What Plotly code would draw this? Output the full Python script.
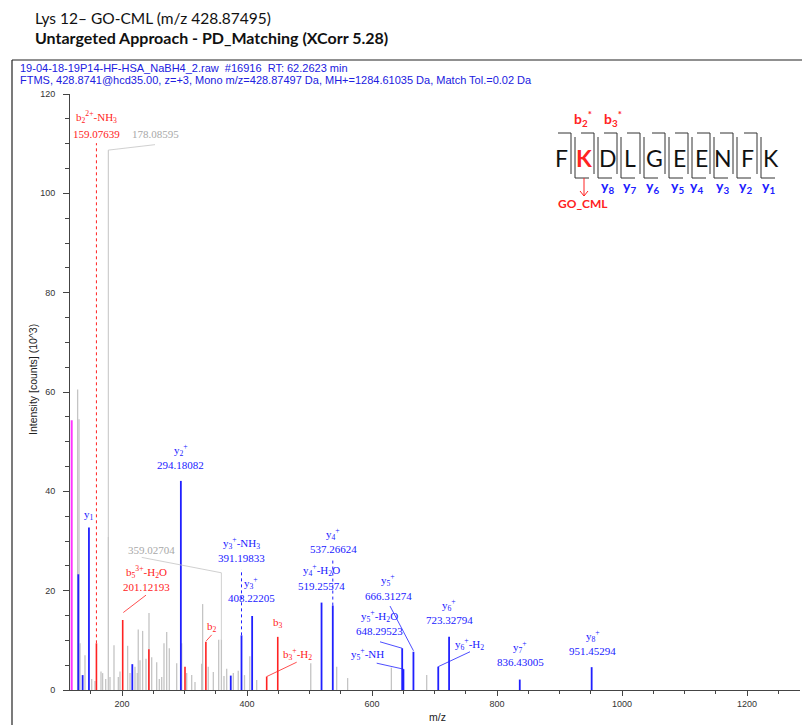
import plotly.graph_objects as go

# ---------------- data ----------------
blue_mz = [130.1, 137.0, 147.11, 216.5, 294.18, 374.0, 391.20, 408.22, 519.26, 537.27,
           648.30, 650.3, 666.31, 706.0, 723.33, 836.43, 951.45]
blue_int = [23.3, 3.0, 32.7, 5.2, 42.1, 2.9, 11.0, 14.9, 17.6, 17.0,
            8.4, 4.2, 7.7, 4.7, 10.7, 2.1, 4.6]

red_mz = [159.08, 201.12, 243.0, 300.8, 334.2, 431.5, 449.2]
red_int = [9.4, 14.1, 8.2, 4.7, 9.7, 2.7, 10.7]

magenta_mz = [119.5]
magenta_int = [54.3]

gray_mz = [129.0, 131.2, 132.8, 140.8, 151.5, 156.8, 166.4, 169.0, 173.9, 178.09, 180.8,
           187.2, 194.1, 196.8, 209.0, 212.8, 220.8, 224.5, 226.0, 228.8, 233.0, 238.4,
           243.2, 247.5, 255.5, 259.7, 263.5, 267.2, 271.5, 275.7, 287.5, 295.5, 303.5,
           311.5, 316.8, 327.5, 329.0, 338.0, 346.1, 354.7, 359.03, 363.2, 367.5, 378.1,
           386.0, 396.0, 404.5, 415.5, 502.0, 543.5, 561.0, 631.0, 687.5]
gray_int = [60.5, 54.5, 9.4, 7.0, 2.2, 1.8, 3.7, 3.4, 2.2, 30.8, 2.6,
            9.0, 2.6, 3.7, 8.9, 3.4, 4.7, 3.4, 12.2, 6.0, 11.9, 6.3,
            15.5, 6.6, 5.6, 2.2, 2.6, 9.4, 11.7, 8.4, 5.4, 9.4, 3.4,
            3.0, 1.6, 5.3, 17.3, 4.7, 3.6, 10.1, 10.2, 2.8, 4.3, 3.4,
            3.9, 3.0, 6.8, 2.0, 5.4, 4.7, 2.4, 4.5, 3.0]

x_ticks = [200, 400, 600, 800, 1000, 1200]
y_ticks = [0, 20, 40, 60, 80, 100, 120]

# ---------------- geometry helpers ----------------
W, H = 802, 725
ML, MR, MT, MB = 70, 2, 94, 35
PW, PH = W - ML - MR, H - MT - MB


def px(x):
    return (x - ML) / PW


def py(y):
    return (H - MB - y) / PH


BLUE = "#2020FF"
RED = "#FF2222"
GRAY_LINE = "#C4C4C4"
GRAY_TXT = "#A8A8A8"
MAG = "#FF33FF"


def stems(mz, inten):
    xs, ys = [], []
    for m, v in zip(mz, inten):
        xs += [m, m, None]
        ys += [0, v, None]
    return xs, ys


fig = go.Figure()
for mz, it, col, w in [(gray_mz, gray_int, GRAY_LINE, 1.3),
                       (red_mz, red_int, RED, 1.6),
                       (blue_mz, blue_int, BLUE, 1.8),
                       (magenta_mz, magenta_int, MAG, 2.0)]:
    xs, ys = stems(mz, it)
    fig.add_trace(go.Scatter(x=xs, y=ys, mode="lines", line=dict(color=col, width=w),
                             hoverinfo="skip", showlegend=False))

# dotted extensions from peak top up to label
ext = [(159.08, 9.4, 110.1, RED, "dot"), (178.09, 30.8, 108.7, GRAY_LINE, "solid"),
       (391.20, 11.0, 24.3, BLUE, "dot"), (537.27, 17.0, 26.2, BLUE, "dot")]
for m, a, b, c, d in ext:
    fig.add_trace(go.Scatter(x=[m, m], y=[a, b], mode="lines",
                             line=dict(color=c, width=1, dash=d), hoverinfo="skip", showlegend=False))

# leader lines (label -> peak)
leaders = [
    ([178.09, 252.8], [108.7, 109.8], GRAY_LINE),
    ([231.5, 359.03, 359.03], [26.7, 23.6, 10.2], GRAY_LINE),
    ([238.4, 202.1], [19.1, 15.6], RED),
    ([343.5, 334.9], [11.1, 9.9], RED),
    ([479.5, 431.5], [5.6, 2.7], RED),
    ([628.8, 666.31], [16.9, 7.9], BLUE),
    ([612.8, 648.3], [9.7, 8.4], BLUE),
    ([607.5, 650.3], [5.4, 4.2], BLUE),
    ([756.8, 706.0], [7.7, 4.7], BLUE),
]
for xs, ys, c in leaders:
    fig.add_trace(go.Scatter(x=xs, y=ys, mode="lines", line=dict(color=c, width=0.8),
                             hoverinfo="skip", showlegend=False))

# peak labels (data coords)
labels = [
    ("b<sub>2</sub><sup>2+</sup>-NH<sub>3</sub>", 158.5, 115.3, RED),
    ("159.07639", 158.5, 111.9, RED),
    ("178.08595", 252.8, 111.9, GRAY_TXT),
    ("y<sub>2</sub><sup>+</sup>", 294.18, 48.3, BLUE),
    ("294.18082", 294.18, 45.3, BLUE),
    ("y<sub>1</sub>", 147.2, 35.2, BLUE),
    ("359.02704", 247.5, 28.2, GRAY_TXT),
    ("b<sub>5</sub><sup>3+</sup>-H<sub>2</sub>O", 238.4, 23.8, RED),
    ("201.12193", 238.4, 20.8, RED),
    ("b<sub>2</sub>", 343.5, 12.7, RED),
    ("y<sub>3</sub><sup>+</sup>-NH<sub>3</sub>", 391.5, 29.6, BLUE),
    ("391.19833", 391.5, 26.5, BLUE),
    ("y<sub>3</sub><sup>+</sup>", 406.4, 21.5, BLUE),
    ("408.22205", 406.9, 18.5, BLUE),
    ("b<sub>3</sub>", 449.1, 13.5, RED),
    ("b<sub>3</sub><sup>+</sup>-H<sub>2</sub>", 480.5, 7.2, RED),
    ("y<sub>4</sub><sup>+</sup>", 538.1, 31.4, BLUE),
    ("537.26624", 538.1, 28.3, BLUE),
    ("y<sub>4</sub><sup>+</sup>-H<sub>2</sub>O", 519.5, 24.1, BLUE),
    ("519.25574", 519.5, 20.9, BLUE),
    ("y<sub>5</sub><sup>+</sup>", 626.1, 22.1, BLUE),
    ("666.31274", 626.1, 18.9, BLUE),
    ("y<sub>5</sub><sup>+</sup>-H<sub>2</sub>O", 611.7, 14.9, BLUE),
    ("648.29523", 611.7, 11.9, BLUE),
    ("y<sub>5</sub><sup>+</sup>-NH", 592.5, 7.2, BLUE),
    ("y<sub>6</sub><sup>+</sup>", 723.7, 17.1, BLUE),
    ("723.32794", 723.7, 14.1, BLUE),
    ("y<sub>6</sub><sup>+</sup>-H<sub>2</sub>", 755.7, 9.2, BLUE),
    ("y<sub>7</sub><sup>+</sup>", 837.3, 8.7, BLUE),
    ("836.43005", 837.3, 5.6, BLUE),
    ("y<sub>8</sub><sup>+</sup>", 953.1, 10.9, BLUE),
    ("951.45294", 953.1, 7.9, BLUE),
]
ann = []
for t, x, y, c in labels:
    ann.append(dict(text=t, x=x, y=y, xref="x", yref="y", showarrow=False,
                    font=dict(family="Liberation Serif", size=11, color=c),
                    xanchor="center", yanchor="middle"))

# titles
ann.append(dict(text="Lys 12\u2013 GO-CML (m/z 428.87495)", x=px(33), y=py(18), xref="paper", yref="paper",
                showarrow=False, xanchor="left", yanchor="middle",
                font=dict(family="Lato", size=15.5, color="#111")))
ann.append(dict(text="<b>Untargeted Approach - PD_Matching (XCorr 5.28)</b>", x=px(33), y=py(37),
                xref="paper", yref="paper", showarrow=False, xanchor="left", yanchor="middle",
                font=dict(family="Lato", size=16, color="#111")))
ann.append(dict(text="19-04-18-19P14-HF-HSA_NaBH4_2.raw  #16916  RT: 62.2623 min", x=px(18), y=py(68),
                xref="paper", yref="paper", showarrow=False, xanchor="left", yanchor="middle",
                font=dict(family="Liberation Sans", size=11, color="#2020E0")))
ann.append(dict(text="FTMS, 428.8741@hcd35.00, z=+3, Mono m/z=428.87497 Da, MH+=1284.61035 Da, Match Tol.=0.02 Da",
                x=px(18), y=py(80), xref="paper", yref="paper", showarrow=False, xanchor="left",
                yanchor="middle", font=dict(family="Liberation Sans", size=11, color="#2020E0")))
ann.append(dict(text="Intensity [counts] (10^3)", x=px(33), y=py(380), xref="paper", yref="paper",
                showarrow=False, textangle=-90, xanchor="center", yanchor="middle",
                font=dict(family="Liberation Sans", size=10.5, color="#222")))
ann.append(dict(text="m/z", x=px(437), y=py(717), xref="paper", yref="paper", showarrow=False,
                xanchor="center", yanchor="middle", font=dict(family="Liberation Sans", size=10.5, color="#222")))

# peptide sequence graphic
seq = ["F", "K", "D", "L", "G", "E", "E", "N", "F", "K"]
seq_x = [561, 584, 608, 630, 654, 679, 701, 723, 747, 771]
for i, (ch, x) in enumerate(zip(seq, seq_x)):
    red = (i == 1)
    ann.append(dict(text=("<b>%s</b>" % ch) if red else ch, x=px(x), y=py(158), xref="paper", yref="paper",
                    showarrow=False, xanchor="center", yanchor="middle",
                    font=dict(family="Lato", size=23, color=RED if red else "#111")))
b_lab = [("b<sub>2</sub><sup>*</sup>", 583), ("b<sub>3</sub><sup>*</sup>", 613)]
for t, x in b_lab:
    ann.append(dict(text="<b>%s</b>" % t, x=px(x), y=py(119), xref="paper", yref="paper", showarrow=False,
                    xanchor="center", yanchor="middle", font=dict(family="Lato", size=14, color=RED)))
y_lab = [(8, 607), (7, 629), (6, 652), (5, 677), (4, 696), (3, 722), (2, 745), (1, 768)]
for n, x in y_lab:
    ann.append(dict(text="<b>y<sub>%d</sub></b>" % n, x=px(x), y=py(186), xref="paper", yref="paper",
                    showarrow=False, xanchor="center", yanchor="middle",
                    font=dict(family="Lato", size=14, color=BLUE)))
ann.append(dict(text="<b>GO_CML</b>", x=px(583), y=py(203), xref="paper", yref="paper", showarrow=False,
                xanchor="center", yanchor="middle", font=dict(family="Lato", size=12, color=RED)))

shapes = []
divs = [573, 596, 619, 642, 667, 690, 712, 735, 759]
BR = "#333"
for d in divs:
    pts = [((d - 15, 133), (d - 2, 133)), ((d - 2, 133), (d - 2, 174)),
           ((d + 2, 137), (d + 2, 178)), ((d + 2, 178), (d + 16, 178))]
    for (x0, y0), (x1, y1) in pts:
        shapes.append(dict(type="line", xref="paper", yref="paper", x0=px(x0), y0=py(y0), x1=px(x1), y1=py(y1),
                           line=dict(color=BR, width=1)))
# arrow under K
for (x0, y0), (x1, y1) in [((584, 178), (584, 196)), ((580, 191), (584, 196)), ((588, 191), (584, 196))]:
    shapes.append(dict(type="line", xref="paper", yref="paper", x0=px(x0), y0=py(y0), x1=px(x1), y1=py(y1),
                       line=dict(color=RED, width=1)))
# frame
shapes.append(dict(type="line", xref="paper", yref="paper", x0=px(12), y0=py(60), x1=px(802), y1=py(60),
                   line=dict(color="#222", width=1.2)))
shapes.append(dict(type="line", xref="paper", yref="paper", x0=px(12), y0=py(60), x1=px(12), y1=py(726),
                   line=dict(color="#222", width=1.2)))

fig.update_layout(
    width=W, height=H, margin=dict(l=ML, r=MR, t=MT, b=MB, autoexpand=False),
    paper_bgcolor="white", plot_bgcolor="white", showlegend=False,
    annotations=ann, shapes=shapes,
    xaxis=dict(range=[116.8, 1284.8], tickvals=x_ticks, showgrid=False, zeroline=False, showline=True,
               linecolor="#444", linewidth=1, ticks="outside", ticklen=5, tickcolor="#444",
               minor=dict(dtick=50, tick0=0, ticks="outside", ticklen=3, tickcolor="#444"),
               tickfont=dict(family="Liberation Sans", size=9, color="#333")),
    yaxis=dict(range=[0, 120], tickvals=y_ticks, showgrid=False, zeroline=False, showline=True,
               linecolor="#444", linewidth=1, ticks="outside", ticklen=6, tickcolor="#444",
               minor=dict(dtick=5, tick0=0, ticks="outside", ticklen=4, tickcolor="#444"),
               tickfont=dict(family="Liberation Sans", size=9, color="#333"), ticklabelstandoff=6),
)
fig.write_html("out.html", config={"displayModeBar": False},
               post_script="document.body.style.margin='0';document.body.style.overflow='hidden';")
